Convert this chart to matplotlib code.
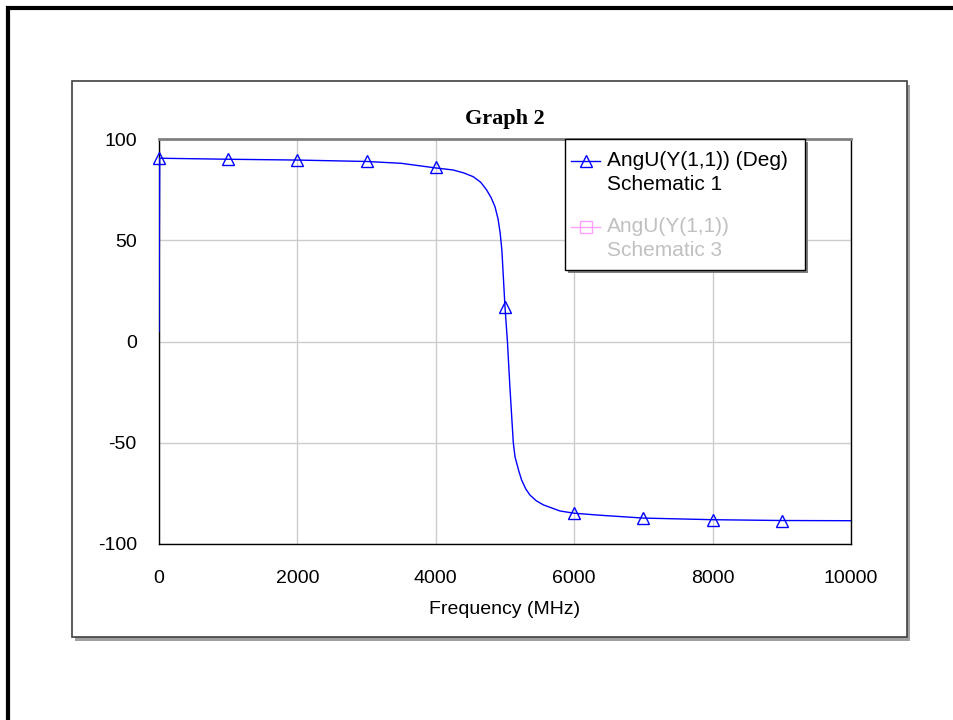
import matplotlib
matplotlib.use("Agg")
import matplotlib.pyplot as plt
from matplotlib.patches import Rectangle
from matplotlib.lines import Line2D

plt.rcParams["axes.unicode_minus"] = False

# Данные кривой AngU(Y(1,1))
freq = [0, 10, 1000, 2000, 3000, 3500, 4000, 4250, 4400, 4540, 4650, 4735, 4800,
        4855, 4900, 4930, 4955, 5000, 5035, 5070, 5120, 5145, 5200, 5240, 5300,
        5360, 5450, 5555, 5795, 6000, 6375, 7000, 8000, 9000, 10000]
phase = [5, 90.5, 90, 89.6, 88.9, 88, 85.7, 84.7, 83.3, 81.4, 78.6, 74.8, 71,
         66.6, 60.5, 53.6, 45, 17, 0, -22, -50, -57, -64, -68.4, -72.8,
         -75.8, -78.6, -80.7, -83.7, -84.8, -85.8, -87.2, -88, -88.4, -88.5]

# Маркеры через каждые 1000 МГц
marker_freq = [0, 1000, 2000, 3000, 4000, 5000, 6000, 7000, 8000, 9000]
marker_phase = [90.5, 90, 89.6, 88.9, 86, 17, -84.6, -87, -88, -88.4]

x_ticks = [0, 2000, 4000, 6000, 8000, 10000]
y_ticks = [-100, -50, 0, 50, 100]

legend_labels = [["AngU(Y(1,1)) (Deg)", "Schematic 1"], ["AngU(Y(1,1))", "Schematic 3"]]

W, H = 954, 720
fig = plt.figure(figsize=(W / 100, H / 100), dpi=100)
fig.patch.set_facecolor("white")


def px(x, y):
    # пиксели -> координаты фигуры
    return x / W, 1 - y / H


# Внешняя рамка (видны только верхняя и левая стороны)
fig.patches.append(Rectangle(px(8, 720 + 100), 2, (720 + 100 - 8) / H,
                             transform=fig.transFigure, fill=False,
                             edgecolor="black", linewidth=3, zorder=0))
# Панель графика с тенью
fig.patches.append(Rectangle(px(75, 641), 835 / W, 556 / H,
                             transform=fig.transFigure, facecolor="#a0a0a0",
                             edgecolor="none", zorder=0))
fig.patches.append(Rectangle(px(72, 637), 835 / W, 556 / H,
                             transform=fig.transFigure, facecolor="white",
                             edgecolor="#404040", linewidth=1.2, zorder=0))

ax = fig.add_axes([159 / W, 1 - 544 / H, 692 / W, 405 / H])
ax.set_zorder(2)

ax.plot(freq, phase, color="#0000ff", linewidth=1.0, zorder=3)
ax.plot(marker_freq, marker_phase, linestyle="none", marker="^", markersize=9,
        markerfacecolor="none", markeredgecolor="#0000ff", markeredgewidth=1.0,
        zorder=4, clip_on=False)

ax.set_xlim(0, 10000)
ax.set_ylim(-100, 100)
ax.set_xticks(x_ticks)
ax.set_yticks(y_ticks)
ax.tick_params(length=0, labelsize=14)
ax.tick_params(axis="x", pad=19)
ax.tick_params(axis="y", pad=16)
for lab in ax.get_xticklabels() + ax.get_yticklabels():
    lab.set_fontfamily("Liberation Sans")
ax.grid(True, color="#cccccc", linewidth=1.0)
ax.set_axisbelow(True)

for side in ["left", "bottom", "right"]:
    ax.spines[side].set_color("black")
    ax.spines[side].set_linewidth(1.0)
ax.spines["top"].set_color("#808080")
ax.spines["top"].set_linewidth(2.0)

ax.set_xlabel("Frequency (MHz)", fontsize=14, fontfamily="Liberation Sans", labelpad=10)
ax.set_title("Graph 2", fontsize=16, fontweight="bold", fontfamily="Liberation Serif", pad=11)

# Легенда (рисуется вручную: маркер на уровне первой строки подписи)
fig.patches.append(Rectangle(px(568, 273), 240 / W, 131 / H, transform=fig.transFigure,
                             facecolor="#808080", edgecolor="none", zorder=5))
fig.patches.append(Rectangle(px(565, 270), 240 / W, 131 / H, transform=fig.transFigure,
                             facecolor="white", edgecolor="black", linewidth=1.0, zorder=6))
entry_styles = [("#0000ff", "^", "black"), ("#ffa0ff", "s", "#c0c0c0")]
entry_y = [161, 227]
for (col, mk, tcol), y0, lines in zip(entry_styles, entry_y, legend_labels):
    fig.add_artist(Line2D([571 / W, 600 / W], [1 - y0 / H, 1 - y0 / H],
                          transform=fig.transFigure, color=col, linewidth=1.0, zorder=7))
    fig.add_artist(Line2D([586 / W], [1 - y0 / H], transform=fig.transFigure,
                          marker=mk, markersize=8, markerfacecolor="none",
                          markeredgecolor=col, linestyle="none", zorder=7))
    for i, txt in enumerate(lines):
        fig.text(607 / W, 1 - (y0 + 24 * i) / H, txt, ha="left", va="center",
                 fontsize=15, fontfamily="Liberation Sans", color=tcol, zorder=7)

fig.savefig("out.png", dpi=100)
